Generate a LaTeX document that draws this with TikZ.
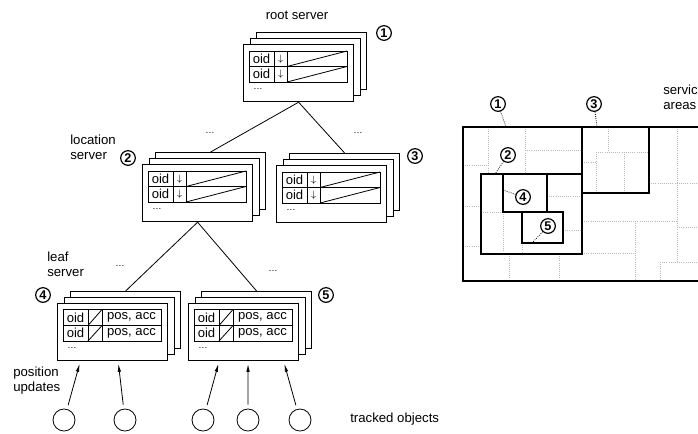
\documentclass[tikz,border=0pt]{standalone}
\usepackage{fontspec}
\setmainfont{Liberation Sans}
\usetikzlibrary{calc,arrows.meta}

\begin{document}
\begin{tikzpicture}[x=0.75pt,y=-0.75pt,
  srv/.style={draw,fill=white,line width=0.9pt,minimum width=82.5pt,minimum height=42.75pt,anchor=north west,inner sep=0pt},
  cell/.style={inner sep=0pt,font=\fontsize{9.8}{10}\selectfont},
  more/.style={inner sep=0pt,font=\scriptsize},
  num/.style={draw,circle,line width=0.9pt,minimum size=11pt,inner sep=0pt,font=\bfseries\fontsize{9.5}{10}\selectfont},
  obj/.style={draw,circle,line width=0.6pt,minimum size=16.5pt,inner sep=0pt},
  lbl/.style={align=left,anchor=west,inner sep=0pt,font=\fontsize{9.9}{11.2}\selectfont},
  link/.style={line width=0.6pt},
  upd/.style={line width=0.6pt,-{Latex[length=6pt,width=2.6pt]},shorten <=3pt,shorten >=2pt},
  area/.style={line width=1.1pt},
  part/.style={gray!55,densely dotted,line width=0.6pt},
  lead/.style={densely dotted,line width=0.6pt}]
  \useasboundingbox (0,0) rectangle (698,433);
  \clip (0,0) rectangle (698,433);

  % server stacks with location tables
  \foreach \n/\x/\y in {root/243/44,loc2/142/164,loc3/276/165} {
    \node[srv] (\n-2) at (\x+13,\y-12) {};
    \node[srv] (\n-1) at (\x+6.5,\y-6) {};
    \node[srv] (\n) at (\x,\y) {};
    \begin{scope}[shift={(\x,\y)},line width=0.6pt]
      \draw (6,7) rectangle (104,38) (6,22.5) -- (104,22.5);
      \draw (31,7) -- (31,38) (44,7) -- (44,38);
      \draw (44,22.5) -- (104,7) (44,38) -- (104,22.5);
      \foreach \r/\ry in {1/14.75,2/30.25} {
        \node[cell] (\n-oid\r) at (18.5,\ry) {oid};
        \node[cell] (\n-ptr\r) at (37.5,\ry) {$\scriptstyle\downarrow$};
      }
      \node[more] (\n-more) at (15,45) {\dots};
    \end{scope}
  }

  % leaf stacks with position tables
  \foreach \n/\x/\y in {leaf4/57/303,leaf5/188/303} {
    \node[srv] (\n-2) at (\x+13,\y-12) {};
    \node[srv] (\n-1) at (\x+6.5,\y-6) {};
    \node[srv] (\n) at (\x,\y) {};
    \begin{scope}[shift={(\x,\y)},line width=0.6pt]
      \draw (6,6.5) rectangle (104,38);
      \draw[line width=1.3pt] (6,22.5) -- (104,22.5);
      \draw (31,6.5) -- (31,38) (45,6.5) -- (45,38);
      \draw (31,22.5) -- (45,6.5) (31,38) -- (45,22.5);
      \foreach \r/\ry in {1/14.5,2/30.25} {
        \node[cell] (\n-oid\r) at (18.5,\ry) {oid};
        \node[cell] (\n-pos\r) at (74.5,\ry) {pos, acc};
      }
      \node[more] (\n-more) at (15,45) {\dots};
    \end{scope}
  }

  % hierarchy
  \draw[link] (root.south) -- (loc2-2.north);
  \draw[link] (root.south) -- (loc3-2.north);
  \draw[link] (loc2.south) -- (leaf4-2.north);
  \draw[link] (loc2.south) -- (leaf5-2.north);

  \node[cell] (rootlbl) at (297,15) {root server};
  \node[lbl] (loclbl) at (70,147) {location\\server};
  \node[lbl] (leaflbl) at (47,264.5) {leaf\\server};
  \node[lbl] (updlbl) at (13,381) {position\\updates};
  \node[lbl] (objlbl) at (350,419) {tracked objects};
  \node[lbl] (arealbl) at (663,97.5) {service\\areas};

  \node[more] (dots1) at (210,133) {\dots};
  \node[more] (dots2) at (358,133) {\dots};
  \node[more] (dots3) at (120,266) {\dots};
  \node[more] (dots4) at (273,271) {\dots};

  \foreach \i/\x/\y in {1/384/33,2/128/158,3/415/156,4/43/295,5/326/295}
    \node[num] (n\i) at (\x,\y) {\i};

  % tracked objects
  \foreach \i/\x in {1/64,2/125,3/203,4/248,5/300}
    \node[obj] (o\i) at (\x,420) {};
  \draw[upd] (o1) -- ($(leaf4.south west)!0.21!(leaf4.south east)$);
  \draw[upd] (o2) -- ($(leaf4.south west)!0.55!(leaf4.south east)$);
  \draw[upd] (o3) -- ($(leaf5.south west)!0.28!(leaf5.south east)$);
  \draw[upd] (o4) -- ($(leaf5.south west)!0.54!(leaf5.south east)$);
  \draw[upd] (o5) -- ($(leaf5.south west)!0.86!(leaf5.south east)$);

  % service areas
  \draw[part] (488,127) -- (488,174) (525,127) -- (525,174) (525,150) -- (582,150)
    (463,165) -- (488,165) (463,206) -- (481,206) (463,246) -- (481,246)
    (481,212) -- (503,212) (503,212) -- (503,254) (547,196) -- (582,196)
    (522,243) -- (522,254) (563,230) -- (582,230) (509,254) -- (509,281)
    (559,254) -- (559,281) (582,253) -- (635,253) (635,221) -- (635,281)
    (582,221) -- (677,221) (677,127) -- (677,262) (649,183) -- (710,183)
    (677,227) -- (710,227) (660,262) -- (710,262) (660,262) -- (660,281)
    (608,127) -- (608,152) (596,152) -- (649,152) (596,152) -- (596,193)
    (624,152) -- (624,193) (582,162) -- (596,162);
  \draw[area] (463,127) rectangle (720,281);
  \draw[area] (481,174) rectangle (582,254);
  \draw[area] (582,127) rectangle (649,193);
  \draw[area] (503,174) rectangle (547,212);
  \draw[area] (522,212) rectangle (563,243);

  \foreach \i/\x/\y/\cx/\cy in {1/498/104/506/127,3/594/104/597/127,2/508/155/495/174,4/523/197/503/190,5/548/226/533/242} {
    \node[num] (s\i) at (\x,\y) {\i};
    \coordinate (t\i) at (\cx,\cy);
    \draw[lead] (s\i) -- (t\i);
  }
\end{tikzpicture}
\end{document}
